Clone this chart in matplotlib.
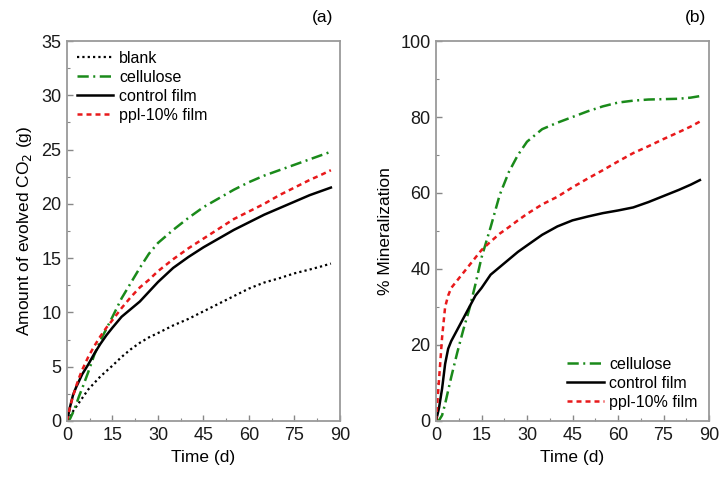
import matplotlib
matplotlib.use("Agg")
import matplotlib.pyplot as plt
from matplotlib.ticker import MultipleLocator

plt.rcParams['font.family'] = ['Liberation Sans', 'DejaVu Sans']

days = [0, 1, 2, 3, 4, 5, 7, 9, 11, 13, 15, 18, 21, 24, 27, 30, 35, 40, 45,
        50, 55, 60, 65, 70, 75, 80, 84, 87]

# Panel (a): evolved CO2 (g)
co2_blank = [0, 0.4, 0.9, 1.3, 1.7, 2.1, 2.9, 3.5, 4.1, 4.6, 5.1, 5.9, 6.6, 7.2,
             7.7, 8.1, 8.8, 9.4, 10.1, 10.8, 11.5, 12.2, 12.75, 13.15, 13.6,
             13.95, 14.25, 14.5]
co2_cellulose = [0, 0.2, 0.8, 1.5, 2.3, 3.0, 4.5, 6.1, 7.4, 8.5, 9.6, 11.3, 12.7,
                 14.1, 15.4, 16.4, 17.6, 18.7, 19.7, 20.5, 21.3, 22.0, 22.6,
                 23.1, 23.6, 24.1, 24.5, 24.8]
co2_control = [0, 1.3, 2.4, 3.1, 3.7, 4.3, 5.2, 6.2, 7.1, 7.9, 8.6, 9.6, 10.3,
               11.0, 11.9, 12.8, 14.1, 15.1, 16.0, 16.8, 17.6, 18.3, 19.0,
               19.6, 20.2, 20.8, 21.2, 21.5]
co2_ppl = [0, 1.3, 2.3, 3.2, 4.0, 4.7, 5.9, 6.9, 7.8, 8.6, 9.3, 10.4, 11.4, 12.3,
           13.0, 13.8, 14.9, 15.9, 16.8, 17.7, 18.6, 19.3, 20.0, 20.8, 21.5,
           22.2, 22.7, 23.1]

# Panel (b): % mineralization
min_cellulose = [0, 0.2, 1.5, 4.5, 8, 11.5, 18, 24, 29.5, 36, 43, 51, 59.5, 65.5,
                 70, 73.5, 76.8, 78.5, 80, 81.5, 82.8, 83.8, 84.3, 84.6, 84.7,
                 84.8, 85.1, 85.5]
min_control = [0, 3.5, 8.5, 15, 19, 21, 24, 27, 30, 33, 35, 38.5, 40.5, 42.5,
               44.5, 46.2, 49, 51.2, 52.8, 53.8, 54.7, 55.4, 56.2, 57.6, 59.2,
               60.8, 62.2, 63.4]
min_ppl = [0, 11, 22, 30, 33, 35, 37, 39, 41, 43, 45, 47.2, 49.3, 51, 52.8, 54.5,
           57, 59, 61.5, 63.8, 66, 68.3, 70.5, 72.3, 74.2, 76, 77.5, 78.8]

green = '#1a8a1a'
red = '#e8191b'
ls_dot = (0, (1, 1.4))
ls_dashdot = (0, (4.5, 1.8, 0.8, 1.8))
ls_dash = (0, (2, 1.6))

fig = plt.figure(figsize=(7.22, 4.83), dpi=100)
ax1 = fig.add_axes([0.0928, 0.1284, 0.3781, 0.7867])
ax2 = fig.add_axes([0.6039, 0.1284, 0.3781, 0.7867])

ax1.plot(days, co2_blank, color='black', lw=1.6, ls=ls_dot, label='blank')
ax1.plot(days, co2_cellulose, color=green, lw=1.8, ls=ls_dashdot, label='cellulose')
ax1.plot(days, co2_control, color='black', lw=1.8, ls='-', label='control film')
ax1.plot(days, co2_ppl, color=red, lw=1.8, ls=ls_dash, label='ppl-10% film')

ax2.plot(days, min_cellulose, color=green, lw=1.8, ls=ls_dashdot, label='cellulose')
ax2.plot(days, min_control, color='black', lw=1.8, ls='-', label='control film')
ax2.plot(days, min_ppl, color=red, lw=1.8, ls=ls_dash, label='ppl-10% film')

for ax in (ax1, ax2):
    ax.set_xlim(0, 90)
    ax.xaxis.set_major_locator(MultipleLocator(15))
    ax.xaxis.set_minor_locator(MultipleLocator(7.5))
    ax.tick_params(which='both', direction='in', top=False, right=False,
                   labelsize=13, color='#888888', labelcolor='#1a1a1a')
    ax.tick_params(which='major', length=4, width=1, pad=4)
    ax.tick_params(which='minor', length=2.5, width=0.8)
    for s in ax.spines.values():
        s.set_color('#9a9a9a')
        s.set_linewidth(1.3)
    ax.set_xlabel('Time (d)', fontsize=12.5, labelpad=5)

ax1.set_ylim(0, 35)
ax1.yaxis.set_major_locator(MultipleLocator(5))
ax1.yaxis.set_minor_locator(MultipleLocator(2.5))
ax1.set_ylabel('Amount of evolved CO$_2$ (g)', fontsize=12.5, labelpad=5)

ax2.set_ylim(0, 100)
ax2.yaxis.set_major_locator(MultipleLocator(20))
ax2.yaxis.set_minor_locator(MultipleLocator(10))
ax2.set_ylabel('% Mineralization', fontsize=12.5, labelpad=5)

ax1.legend(loc='upper left', frameon=False, fontsize=11.5, handlelength=2.3,
           handletextpad=0.35, labelspacing=0.25, borderaxespad=0.2)
ax2.legend(loc='lower right', frameon=False, fontsize=11.5, handlelength=2.3,
           handletextpad=0.35, labelspacing=0.25, borderaxespad=0.3)

fig.text(0.462, 0.963, '(a)', fontsize=12.5, ha='right', va='center')
fig.text(0.978, 0.963, '(b)', fontsize=12.5, ha='right', va='center')

fig.savefig('out.png', dpi=100)
